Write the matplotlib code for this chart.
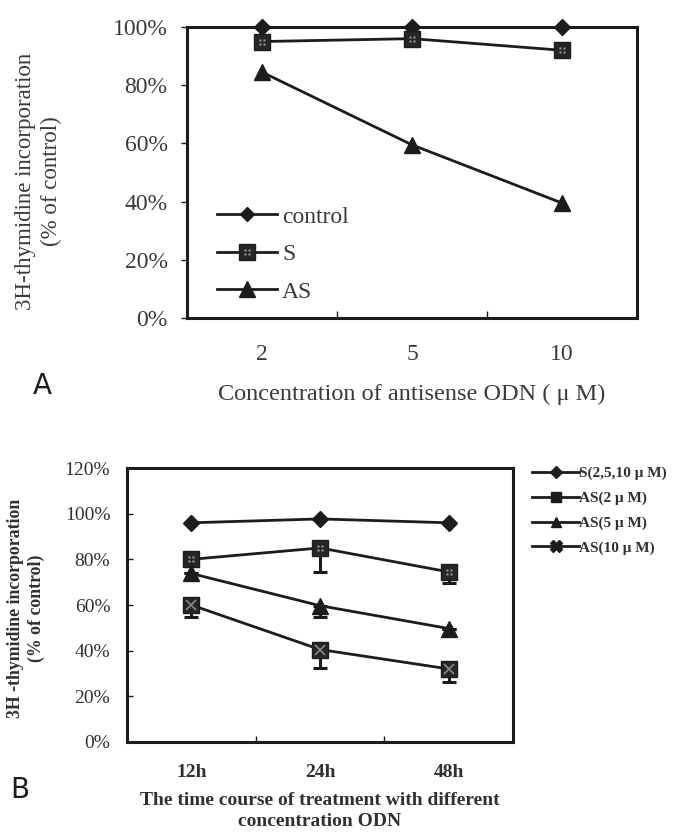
import matplotlib
matplotlib.use("Agg")
import matplotlib.pyplot as plt
from matplotlib.path import Path
from matplotlib.lines import Line2D
from matplotlib.legend_handler import HandlerTuple
import numpy as np

# ---- Panel A data ----
conc_labels = ["2", "5", "10"]
a_control = [100, 100, 100]
a_S = [95, 96, 92]
a_AS = [84.5, 59.5, 39.5]

# ---- Panel B data ----
time_labels = ["12h", "24h", "48h"]
b_S = [96, 97.7, 96]
b_AS2 = [80, 85, 74.5]
b_AS2_err = [0, 10.5, 5]
b_AS5 = [73.8, 59.7, 49.7]
b_AS5_err = [0, 5, 0]
b_AS10 = [60, 40.5, 32]
b_AS10_err = [5.3, 8, 5.7]

plt.rcParams['font.family'] = ['Liberation Serif', 'DejaVu Serif']
ink = '#1c1c1c'
grayA = '#3a3a3a'
grayB = '#303030'

# four-dot pattern drawn inside the square markers
_dots = []
for cx, cy in [(-0.55, -0.55), (0.55, -0.55), (-0.55, 0.55), (0.55, 0.55)]:
    _dots.append(Path([(cx-0.3, cy-0.3), (cx+0.3, cy-0.3), (cx+0.3, cy+0.3), (cx-0.3, cy+0.3), (cx-0.3, cy-0.3)],
                      [Path.MOVETO, Path.LINETO, Path.LINETO, Path.LINETO, Path.CLOSEPOLY]))
dot_marker = Path.make_compound_path(*_dots)

fig = plt.figure(figsize=(6.73, 8.32), dpi=100)

# ================= Panel A =================
axA = fig.add_axes([187/673, 1-318/832, 450/673, 291/832])
x = np.arange(len(conc_labels))
lw = 2.0
axA.plot(x, a_control, color=ink, lw=lw, marker='D', ms=8.2, mfc=ink, mec=ink, clip_on=False, zorder=5)
axA.plot(x, a_S, color=ink, lw=lw, marker='s', ms=12, mfc='#262626', mec=ink, clip_on=False, zorder=5)
axA.plot(x, a_S, ls='none', marker=dot_marker, ms=5, mfc='#9a9a9a', mec='none', clip_on=False, zorder=6)
axA.plot(x, a_AS, color=ink, lw=lw, marker='^', ms=12, mfc=ink, mec=ink, clip_on=False, zorder=5)
axA.set_xlim(-0.5, 2.5)
axA.set_ylim(0, 100)
axA.set_yticks(np.arange(0, 101, 20))
axA.set_yticklabels([f"{v}%" for v in range(0, 101, 20)], fontsize=17, color=grayA)
axA.set_xticks(x)
axA.set_xticklabels(conc_labels, fontsize=17, color=grayA)
axA.tick_params(axis='x', which='major', length=0, pad=19)
axA.set_xticks([0.5, 1.5], minor=True)
axA.tick_params(axis='x', which='minor', direction='in', length=5, width=1, color=ink)
axA.tick_params(axis='y', length=4, width=1, pad=10, color=ink)
for s in axA.spines.values():
    s.set_linewidth(2.2)
    s.set_color(ink)
axA.set_ylabel("3H-thymidine incorporation\n(% of control)", fontsize=16.5, color=grayA, linespacing=1.3)
axA.yaxis.label.set_verticalalignment('center')
axA.yaxis.set_label_coords((39-187)/450, (318-181)/291)
axA.set_xlabel("Concentration of antisense ODN ( μ M)", fontsize=17.5, color=grayA, labelpad=13)

hA_control = Line2D([], [], color=ink, lw=lw, marker='D', ms=7.5, mfc=ink, mec=ink)
hA_S = Line2D([], [], color=ink, lw=lw, marker='s', ms=12, mfc='#262626', mec=ink)
hA_Sd = Line2D([], [], ls='none', marker=dot_marker, ms=5, mfc='#9a9a9a', mec='none')
hA_AS = Line2D([], [], color=ink, lw=lw, marker='^', ms=11, mfc=ink, mec=ink)
axA.legend([hA_control, (hA_S, hA_Sd), hA_AS], ['control', 'S', 'AS'],
           handler_map={tuple: HandlerTuple(ndivide=1, pad=0)},
           loc='upper left', bbox_to_anchor=(217/673, 1-206/832), bbox_transform=fig.transFigure,
           frameon=False, fontsize=17, borderpad=0, borderaxespad=0,
           handlelength=2.55, handletextpad=0.2, labelspacing=0.68, labelcolor=grayA)
fig.text(42/673, 1-386/832, "A", fontsize=20, family='DejaVu Sans', color=ink, ha='center', va='center')

# ================= Panel B =================
axB = fig.add_axes([127/673, 1-742/832, 386/673, 274/832])
xb = np.arange(len(time_labels))
lw2 = 2.0
ekw = dict(capsize=5, capthick=2.2, elinewidth=2.2, ecolor=ink)
axB.plot(xb, b_S, color=ink, lw=lw2, marker='D', ms=8.5, mfc=ink, mec=ink, zorder=5)
axB.errorbar(xb, b_AS2, yerr=[b_AS2_err, [0]*3], color=ink, lw=lw2, marker='s', ms=11, mfc='#262626', mec=ink,
             zorder=5, **ekw)
axB.plot(xb, b_AS2, ls='none', marker=dot_marker, ms=4.5, mfc='#a0a0a0', mec='none', zorder=6)
axB.errorbar(xb, b_AS5, yerr=[b_AS5_err, [0]*3], color=ink, lw=lw2, marker='^', ms=11, mfc=ink, mec=ink,
             zorder=5, **ekw)
axB.errorbar(xb, b_AS10, yerr=[b_AS10_err, [0]*3], color=ink, lw=lw2, marker='s', ms=11, mfc='#262626', mec=ink,
             zorder=5, **ekw)
axB.plot(xb, b_AS10, ls='none', marker='x', ms=7, mew=1.2, color='#8a8a8a', zorder=6)
axB.set_xlim(-0.5, 2.5)
axB.set_ylim(0, 120)
axB.set_yticks(np.arange(0, 121, 20))
axB.set_yticklabels([f"{v}%" for v in range(0, 121, 20)], fontsize=14, color=grayB)
axB.set_xticks(xb)
axB.set_xticklabels(time_labels, fontsize=14, color=grayB, fontweight='bold')
axB.tick_params(axis='x', which='major', length=0, pad=16)
axB.set_xticks([0.5, 1.5], minor=True)
axB.tick_params(axis='x', which='minor', direction='in', length=4, width=1, color=ink)
axB.tick_params(axis='y', direction='in', length=4, width=1, pad=12, color=ink)
for s in axB.spines.values():
    s.set_linewidth(2.2)
    s.set_color(ink)
axB.set_ylabel("3H -thymidine incorporation\n(% of control)", fontsize=12.8, color=grayB, fontweight='bold',
               linespacing=1.3)
axB.yaxis.label.set_verticalalignment('center')
axB.yaxis.set_label_coords((26-127)/386, (742-608)/274)
axB.set_xlabel("The time course of treatment with different\nconcentration ODN", fontsize=14, color=grayB,
               fontweight='bold', labelpad=8, linespacing=1.32)

hB = [
    Line2D([], [], color=ink, lw=2, marker='D', ms=6, mfc=ink, mec=ink),
    Line2D([], [], color=ink, lw=2, marker='s', ms=7, mfc=ink, mec=ink),
    Line2D([], [], color=ink, lw=2, marker='^', ms=7, mfc=ink, mec=ink),
    Line2D([], [], color=ink, lw=2, marker='X', ms=8, mfc=ink, mec=ink),
]
axB.legend(hB, ['S(2,5,10 μ M)', 'AS(2 μ M)', 'AS(5 μ M)', 'AS(10 μ M)'],
           loc='upper left', bbox_to_anchor=(532/673, 1-466.5/832), bbox_transform=fig.transFigure,
           frameon=False, borderpad=0, borderaxespad=0,
           handlelength=3.1, handletextpad=0.0, labelspacing=0.72, labelcolor=grayB,
           prop={'weight': 'bold', 'size': 11})
fig.text(20/673, 1-790/832, "B", fontsize=20, family='DejaVu Sans', color=ink, ha='center', va='center')

fig.savefig("out.png", dpi=100)
